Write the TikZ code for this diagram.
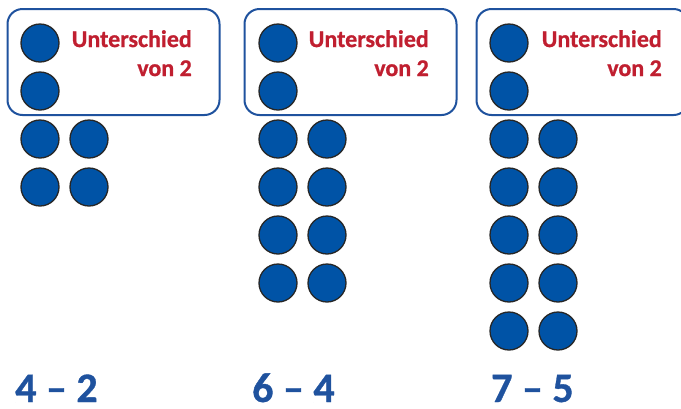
\documentclass[tikz,border=0pt]{standalone}
\usepackage{fontspec}
\setmainfont{Carlito}[BoldFeatures={FakeBold=0.8}]
\usepackage{tikz}
\definecolor{chipblue}{HTML}{0053A6}
\definecolor{framblue}{HTML}{1F529E}
\definecolor{diffred}{HTML}{C01F30}

\begin{document}
\begin{tikzpicture}[x=1pt, y=-1pt,
  chip/.style  ={circle, fill=chipblue, draw=black!85, line width=1.3pt,
                 minimum size=38pt, inner sep=0pt},
  frame/.style ={draw=framblue, line width=2pt, rounded corners=15pt,
                 minimum width=212pt, minimum height=106pt, inner sep=0pt},
  note/.style  ={text=diffred, font=\fontsize{24}{29}\selectfont\bfseries,
                 align=right, inner sep=0pt, anchor=north east},
  task/.style  ={text=framblue, font=\fontsize{42}{42}\selectfont\bfseries,
                 inner sep=0pt, anchor=base west}
]
  \useasboundingbox (0,0) rectangle (681,408);

  % frames round the two counters of the difference
  \node[frame] (f1) at (113.5,62) {};
  \node[frame] (f2) at (350.5,62) {};
  \node[frame] (f3) at (582.5,62) {};
  \node[note] (n1) at (192,30) {Unterschied\\von 2};
  \node[note] (n2) at (429,30) {Unterschied\\von 2};
  \node[note] (n3) at (662,30) {Unterschied\\von 2};

  % counters: single column in the frame, pairs below
  \foreach \x/\c/\pairs in {40/a/2, 278/b/4, 509/c/5} {
    \node[chip] (\c1) at (\x,43) {};
    \node[chip] (\c2) at (\x,91) {};
    \foreach \r in {1,...,\pairs} {
      \node[chip] (\c l\r) at (\x,91+48*\r) {};
      \node[chip] (\c r\r) at (\x+49,91+48*\r) {};
    }
  }

  % tasks
  \node[task] (t1) at (15,402)  {4 -- 2};
  \node[task] (t2) at (252,402) {6 -- 4};
  \node[task] (t3) at (491,402) {7 -- 5};
\end{tikzpicture}
\end{document}
